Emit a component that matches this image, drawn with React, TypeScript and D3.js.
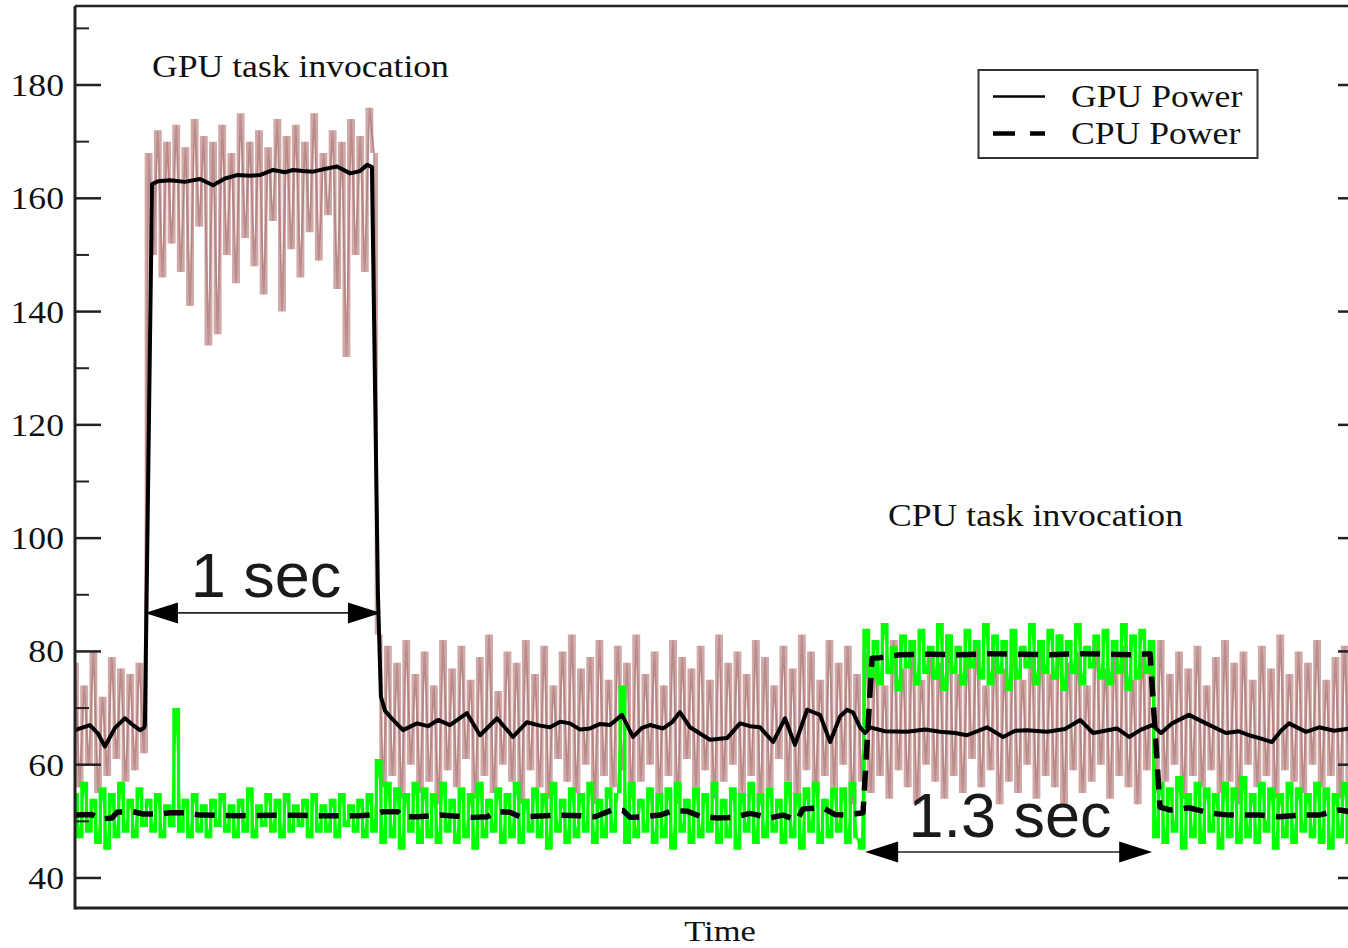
import React from 'react';
import * as d3 from 'd3';

const W = 1348;
const H = 948;

// ---- data ----
// raw samples, one every RAW_DT seconds
const RAW_DT = 0.02;

const gpuRaw: number[] = [
  78, 56, 74, 60, 80, 55, 72, 58, 79, 61, 77, 57, 76, 59, 78, 62,
  168, 150, 172, 146, 170, 152, 173, 147, 169, 141,
  174, 155, 171, 134, 170, 136, 173, 150, 168, 145,
  175, 153, 170, 148, 172, 143, 169, 156, 174, 140,
  171, 151, 173, 146, 170, 154, 175, 149, 168, 157,
  172, 144, 170, 132, 174, 150, 171, 147, 176, 168,
  83, 56, 81, 58, 78, 54, 82, 60, 76, 55,
  80, 57, 74, 53, 82, 59, 77, 56, 81, 61,
  75, 54, 79, 58, 83, 55, 73, 60, 80, 57,
  78, 53, 82, 59, 76, 56, 81, 54, 74, 61,
  80, 57, 83, 55, 77, 60, 79, 53, 82, 58,
  75, 56, 81, 59, 78, 54, 83, 57, 76, 60,
  80, 55, 74, 58, 82, 53, 79, 61, 77, 56,
  81, 59, 75, 54, 83, 57, 78, 60, 80, 55,
  76, 58, 82, 53, 79, 56, 74, 61, 81, 57,
  77, 54, 83, 59, 80, 55, 75, 58, 82, 56,
  78, 60, 81, 53, 76, 57, 80, 55, 79, 58,
  74, 54, 82, 59, 77, 56, 81, 53, 75, 60,
  80, 57, 78, 54, 83, 58, 76, 55, 79, 61,
  81, 56, 74, 59, 80, 53, 77, 57, 82, 55,
  75, 60, 79, 54, 81, 58, 76, 56, 83, 53,
  78, 59, 80, 55, 74, 57, 82, 60, 77, 54,
  79, 58, 81, 56, 75, 53, 80, 59, 78, 55,
  82, 57, 76, 60, 80, 54, 77, 58, 81, 56,
  74, 59, 79, 55, 82, 57, 78, 53, 80, 60,
  75, 56, 81, 58, 77, 54, 83, 59, 76, 57,
  80, 55, 78, 60, 82, 56, 75, 58, 79, 54,
  81, 57,
];

const cpuRaw: number[] = [
  55, 47, 57, 48, 54, 46, 56, 45, 55, 47, 57, 48, 54, 47, 56, 49,
  54, 48, 55, 47, 53, 49, 70, 48, 54, 47,
  55, 48, 53, 47, 54, 49, 55, 48, 53, 47,
  54, 48, 56, 47, 53, 49, 55, 48, 54, 47,
  55, 48, 53, 49, 54, 47, 55, 48, 53, 48,
  54, 47, 55, 49, 53, 48, 54, 47, 55, 48,
  61, 46, 57, 47, 56, 45, 55, 48, 57, 46,
  56, 47, 55, 46, 57, 48, 54, 46, 56, 47,
  55, 45, 57, 47, 54, 48, 56, 46, 55, 47,
  57, 46, 54, 48, 56, 47, 55, 45, 57, 48,
  54, 46, 56, 47, 55, 48, 57, 46, 54, 47,
  56, 48, 55, 74, 46, 57, 47, 54, 48, 56,
  46, 55, 47, 56, 45, 57, 48, 54, 46, 56,
  47, 55, 48, 57, 46, 54, 47, 56, 45, 55,
  48, 57, 46, 55, 47, 56, 48, 54, 46, 57,
  47, 55, 45, 56, 48, 57, 46, 54, 47, 56,
  48, 56, 46, 57, 47, 45,
  84, 75, 82, 74, 85, 76, 81, 73, 83, 77,
  82, 74, 84, 76, 81, 75, 85, 73, 83, 76,
  81, 74, 84, 77, 82, 75, 85, 74, 83, 76,
  82, 73, 84, 75, 81, 77, 85, 74, 82, 76,
  84, 75, 83, 73, 82, 76, 85, 74, 81, 77,
  83, 75, 84, 74, 82, 76, 85, 73, 83, 75,
  84, 76, 82,
  47, 57, 46, 56, 48, 58, 45, 55, 47, 57,
  46, 56, 48, 55, 45, 57, 47, 56, 46, 58,
  47, 55, 46, 57, 48, 56, 45, 55, 47, 57,
  46, 56, 48, 55, 47, 57, 46, 56, 45, 55,
  47, 57, 46,
];

// smoothed GPU power (time in s, value)
const gpuSmoothT: number[] = [
  0.000, 0.065, 0.100, 0.130, 0.174, 0.217, 0.252, 0.283, 0.300, 0.304,
  0.335, 0.361, 0.413, 0.478, 0.543, 0.600, 0.652, 0.704, 0.761, 0.804,
  0.861, 0.913, 0.948, 0.991, 1.035, 1.087, 1.139, 1.196, 1.239, 1.270,
  1.291, 1.317, 1.330, 1.348, 1.383, 1.426, 1.487, 1.535, 1.578, 1.630,
  1.704, 1.761, 1.835, 1.904, 1.965, 2.022, 2.065, 2.109, 2.152, 2.196,
  2.239, 2.283, 2.326, 2.378, 2.426, 2.465, 2.500, 2.557, 2.596, 2.630,
  2.674, 2.717, 2.761, 2.835, 2.891, 2.935, 2.978, 3.035, 3.087, 3.130,
  3.183, 3.239, 3.283, 3.326, 3.357, 3.383, 3.413, 3.435, 3.457, 3.522,
  3.617, 3.696, 3.761, 3.826, 3.878, 3.965, 4.035, 4.087, 4.139, 4.226,
  4.304, 4.370, 4.426, 4.478, 4.530, 4.583, 4.635, 4.683, 4.722, 4.770,
  4.843, 4.917, 5.004, 5.061, 5.104, 5.157, 5.204, 5.243, 5.278, 5.352,
  5.409, 5.474, 5.543,
];
const gpuSmoothV: number[] = [
  66.1, 67.0, 65.5, 63.2, 66.5, 68.2, 67.0, 66.1, 66.5, 67.0,
  162.5, 163.0, 163.2, 162.9, 163.4, 162.3, 163.5, 164.1, 164.0, 164.1,
  165.0, 164.6, 165.0, 164.8, 164.7, 165.2, 165.6, 164.4, 164.8, 165.9,
  165.5, 90.0, 72.0, 69.5, 67.9, 66.1, 67.3, 66.8, 67.9, 67.0,
  69.1, 65.2, 68.2, 64.9, 67.5, 66.9, 66.6, 67.6, 67.3, 66.2,
  66.4, 67.2, 67.0, 68.8, 64.9, 66.5, 67.0, 66.4, 67.5, 69.3,
  66.6, 65.5, 64.4, 64.7, 67.3, 66.8, 66.6, 64.0, 68.2, 63.5,
  69.7, 68.8, 64.0, 68.5, 69.7, 69.2, 66.6, 65.6, 66.6, 65.9,
  65.8, 66.2, 65.8, 65.6, 65.2, 66.6, 64.9, 66.0, 66.1, 65.8,
  66.3, 67.9, 65.6, 66.0, 66.4, 64.9, 66.2, 67.0, 65.6, 67.3,
  68.8, 67.3, 65.6, 65.9, 65.2, 64.6, 64.0, 66.0, 67.3, 65.8,
  66.6, 66.0, 66.4,
];

// smoothed CPU power (time in s, value)
const cpuSmoothT: number[] = [
  0.000, 0.074, 0.109, 0.161, 0.183, 0.252, 0.296, 0.370, 0.413, 0.478,
  0.543, 0.717, 0.891, 1.065, 1.239, 1.304, 1.339, 1.404, 1.422, 1.487,
  1.587, 1.730, 1.791, 1.835, 1.891, 1.935, 2.000, 2.109, 2.196, 2.261,
  2.335, 2.383, 2.413, 2.470, 2.543, 2.600, 2.661, 2.717, 2.791, 2.861,
  2.935, 3.022, 3.078, 3.139, 3.165, 3.252, 3.304, 3.357, 3.426, 3.465,
  3.500, 3.587, 3.717, 3.848, 3.978, 4.109, 4.239, 4.370, 4.500, 4.587,
  4.674, 4.717, 4.761, 4.843, 4.930, 5.017, 5.148, 5.235, 5.322, 5.409,
  5.496, 5.543,
];
const cpuSmoothV: number[] = [
  51.1, 51.2, 50.4, 50.6, 51.6, 51.7, 51.3, 51.3, 51.5, 51.5,
  51.1, 51.0, 51.1, 51.0, 51.0, 51.2, 51.7, 51.7, 50.8, 50.8,
  51.1, 50.7, 50.8, 51.7, 51.6, 50.8, 50.9, 51.1, 51.0, 50.8,
  52.0, 51.9, 50.7, 50.8, 51.1, 51.9, 51.8, 50.9, 50.6, 50.7,
  51.4, 50.6, 51.1, 50.2, 52.2, 52.4, 51.2, 51.1, 51.5, 78.8,
  78.9, 79.4, 79.5, 79.4, 79.6, 79.5, 79.4, 79.6, 79.5, 79.4,
  79.6, 52.5, 52.0, 52.4, 51.5, 51.1, 51.1, 50.8, 51.1, 51.1,
  52.0, 51.7,
];

const yMajorTicks = [40, 60, 80, 100, 120, 140, 160, 180];
const yMinorTicks = [50, 70, 90, 110, 130, 150, 170, 190];

const legendLabels = ['GPU Power', 'CPU Power'];

// duration annotations: start time, end time, level, label
const spanStart = [0.304, 3.435];
const spanEnd = [1.33, 4.683];
const spanLevel = [86.8, 44.6];
const spanLabels = ['1 sec', '1.3 sec'];

const SERIF = "'Liberation Serif', 'Times New Roman', Times, serif";
const SANS = "'Liberation Sans', Arial, Helvetica, sans-serif";

function SerifText(props: { x: number; y: number; anchor?: string; size?: number; children: React.ReactNode }) {
  const { x, y, anchor = 'start', size = 31, children } = props;
  return (
    <text
      transform={`translate(${x},${y}) scale(1.15,1)`}
      textAnchor={anchor as any}
      fontFamily={SERIF}
      fontSize={size}
      fill="#111"
    >
      {children}
    </text>
  );
}

export default function App() {
  const left = 75;
  const right = 1364;
  const top = 6;
  const bottom = 908;

  const x = d3.scaleLinear().domain([0, 5.604]).range([left, right]);
  const y = d3.scaleLinear().domain([34.7, 193.95]).range([bottom, top]);

  const rawLine = d3
    .line<number>()
    .x((_, i) => x(i * RAW_DT))
    .y((d) => y(d));

  const smoothLine = (ts: number[]) =>
    d3
      .line<number>()
      .x((_, i) => x(ts[i]))
      .y((d) => y(d));

  // vertical strokes spanning consecutive raw samples (spiky band look)
  const rawBars = (vals: number[]) => {
    let d = '';
    for (let i = 0; i < vals.length - 1; i++) {
      const xi = x((i + 0.5) * RAW_DT);
      d += `M${xi},${y(vals[i])}V${y(vals[i + 1])}`;
    }
    return d;
  };

  const gpuRawPath = rawLine(gpuRaw) || '';
  const cpuRawPath = rawLine(cpuRaw) || '';
  const gpuBars = rawBars(gpuRaw);
  const cpuBars = rawBars(cpuRaw);
  const gpuPath = smoothLine(gpuSmoothT)(gpuSmoothV) || '';
  const cpuPath = smoothLine(cpuSmoothT)(cpuSmoothV) || '';

  const axisColor = '#222';
  const headLen = 33;
  const headHalf = 10.5;

  return (
    <svg
      width={W}
      height={H}
      viewBox={`0 0 ${W} ${H}`}
      style={{ position: 'absolute', left: 0, top: 0, display: 'block', background: '#fff' }}
    >
      <defs>
        <clipPath id="plotClip">
          <rect x={left} y={top} width={right - left} height={bottom - top} />
        </clipPath>
      </defs>

      {/* data */}
      <g clipPath="url(#plotClip)">
        <path d={gpuBars} fill="none" stroke="#cfa8a7" strokeWidth={3.3} />
        <path d={gpuRawPath} fill="none" stroke="#b07d7b" strokeOpacity={0.85} strokeWidth={1.7} strokeLinejoin="bevel" />
        <path d={cpuBars} fill="none" stroke="#00ff00" strokeWidth={3.3} />
        <path d={cpuRawPath} fill="none" stroke="#00ff00" strokeWidth={1.8} strokeLinejoin="bevel" />
        <path d={gpuPath} fill="none" stroke="#000" strokeWidth={4} strokeLinejoin="round" />
        <path d={cpuPath} fill="none" stroke="#000" strokeWidth={5.5} strokeDasharray="20 11" strokeLinejoin="round" />
      </g>

      {/* frame */}
      <line x1={left} x2={right} y1={top} y2={top} stroke={axisColor} strokeWidth={2.5} />
      <line x1={left} x2={right} y1={bottom} y2={bottom} stroke={axisColor} strokeWidth={3} />
      <line x1={left} x2={left} y1={top} y2={bottom + 1.5} stroke={axisColor} strokeWidth={3} />
      <line x1={right} x2={right} y1={top} y2={bottom} stroke={axisColor} strokeWidth={3} />

      {/* ticks */}
      {yMajorTicks.map((t) => (
        <g key={'M' + t}>
          <line x1={left} x2={left + 26} y1={y(t)} y2={y(t)} stroke={axisColor} strokeWidth={2.5} />
          <line x1={right} x2={right - 26} y1={y(t)} y2={y(t)} stroke={axisColor} strokeWidth={2.5} />
          <SerifText x={64} y={y(t) + 11} anchor="end">
            {String(t)}
          </SerifText>
        </g>
      ))}
      {yMinorTicks.map((t) => (
        <g key={'m' + t}>
          <line x1={left} x2={left + 14} y1={y(t)} y2={y(t)} stroke={axisColor} strokeWidth={2} />
          <line x1={right} x2={right - 14} y1={y(t)} y2={y(t)} stroke={axisColor} strokeWidth={2} />
        </g>
      ))}

      {/* axis title */}
      <SerifText x={720} y={941} anchor="middle" size={30}>
        Time
      </SerifText>

      {/* annotations */}
      <SerifText x={152} y={77}>GPU task invocation</SerifText>
      <SerifText x={888} y={526}>CPU task invocation</SerifText>

      {spanLabels.map((lab, k) => {
        const x0 = x(spanStart[k]);
        const x1 = x(spanEnd[k]);
        const yy = y(spanLevel[k]);
        return (
          <g key={lab}>
            <line x1={x0 + headLen - 2} x2={x1 - headLen + 2} y1={yy} y2={yy} stroke="#222" strokeWidth={1.6} />
            <path d={`M${x0},${yy}L${x0 + headLen},${yy - headHalf}L${x0 + headLen},${yy + headHalf}Z`} fill="#000" />
            <path d={`M${x1},${yy}L${x1 - headLen},${yy - headHalf}L${x1 - headLen},${yy + headHalf}Z`} fill="#000" />
          </g>
        );
      })}
      <text x={266} y={597} textAnchor="middle" fontFamily={SANS} fontSize={63} fill="#1a1a1a">
        {spanLabels[0]}
      </text>
      <text x={1010} y={837} textAnchor="middle" fontFamily={SANS} fontSize={63} fill="#1a1a1a">
        {spanLabels[1]}
      </text>

      {/* legend */}
      <rect x={978.5} y={70} width={279} height={88} fill="#fff" stroke="#333" strokeWidth={2} />
      <line x1={993} x2={1045} y1={96.5} y2={96.5} stroke="#000" strokeWidth={2.5} />
      <line x1={993} x2={1045} y1={133.5} y2={133.5} stroke="#000" strokeWidth={4.5} strokeDasharray="22 15" />
      <SerifText x={1071} y={107}>{legendLabels[0]}</SerifText>
      <SerifText x={1071} y={144}>{legendLabels[1]}</SerifText>
    </svg>
  );
}
